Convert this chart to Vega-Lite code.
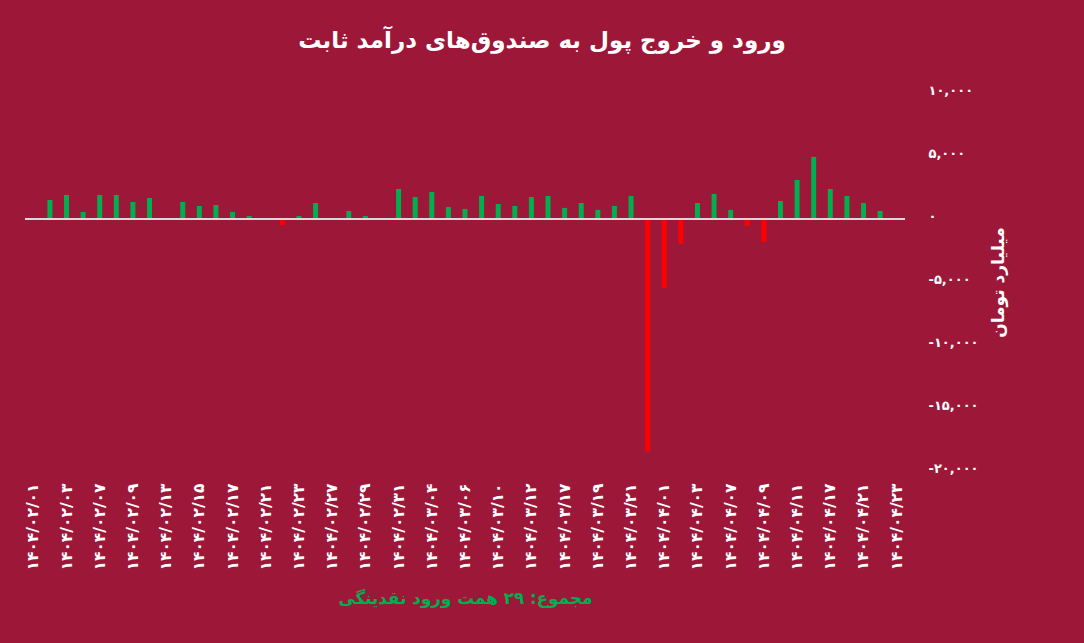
{
  "$schema": "https://vega.github.io/schema/vega-lite/v6.json",
  "autosize": "none",
  "width": 880,
  "height": 378,
  "padding": {"left": 25, "top": 93, "right": 179, "bottom": 172},
  "background": "#9D1739",
  "config": {
    "font": "DejaVu Sans",
    "view": {"stroke": null}
  },
  "title": {
    "text": "ورود و خروج پول به صندوق‌های  درآمد ثابت",
    "color": "#FFFFFF",
    "fontSize": 23,
    "fontWeight": "bold",
    "anchor": "middle",
    "dx": 77,
    "offset": 31
  },
  "data": {
    "values": [
      {"date": "۱۴۰۴/۰۲/۰۱", "value": 0},
      {"date": "۱۴۰۴/۰۲/۰۲", "value": 1510},
      {"date": "۱۴۰۴/۰۲/۰۳", "value": 1910},
      {"date": "۱۴۰۴/۰۲/۰۶", "value": 560},
      {"date": "۱۴۰۴/۰۲/۰۷", "value": 1910},
      {"date": "۱۴۰۴/۰۲/۰۸", "value": 1910},
      {"date": "۱۴۰۴/۰۲/۰۹", "value": 1350},
      {"date": "۱۴۰۴/۰۲/۱۰", "value": 1670},
      {"date": "۱۴۰۴/۰۲/۱۳", "value": 0},
      {"date": "۱۴۰۴/۰۲/۱۴", "value": 1350},
      {"date": "۱۴۰۴/۰۲/۱۵", "value": 1030},
      {"date": "۱۴۰۴/۰۲/۱۶", "value": 1110},
      {"date": "۱۴۰۴/۰۲/۱۷", "value": 560},
      {"date": "۱۴۰۴/۰۲/۲۰", "value": 240},
      {"date": "۱۴۰۴/۰۲/۲۱", "value": 0},
      {"date": "۱۴۰۴/۰۲/۲۲", "value": -480},
      {"date": "۱۴۰۴/۰۲/۲۳", "value": 240},
      {"date": "۱۴۰۴/۰۲/۲۴", "value": 1270},
      {"date": "۱۴۰۴/۰۲/۲۷", "value": 0},
      {"date": "۱۴۰۴/۰۲/۲۸", "value": 640},
      {"date": "۱۴۰۴/۰۲/۲۹", "value": 240},
      {"date": "۱۴۰۴/۰۲/۳۰", "value": 0},
      {"date": "۱۴۰۴/۰۲/۳۱", "value": 2380},
      {"date": "۱۴۰۴/۰۳/۰۳", "value": 1750},
      {"date": "۱۴۰۴/۰۳/۰۴", "value": 2150},
      {"date": "۱۴۰۴/۰۳/۰۵", "value": 950},
      {"date": "۱۴۰۴/۰۳/۰۶", "value": 800},
      {"date": "۱۴۰۴/۰۳/۰۷", "value": 1830},
      {"date": "۱۴۰۴/۰۳/۱۰", "value": 1190},
      {"date": "۱۴۰۴/۰۳/۱۱", "value": 1030},
      {"date": "۱۴۰۴/۰۳/۱۲", "value": 1750},
      {"date": "۱۴۰۴/۰۳/۱۳", "value": 1830},
      {"date": "۱۴۰۴/۰۳/۱۷", "value": 880},
      {"date": "۱۴۰۴/۰۳/۱۸", "value": 1270},
      {"date": "۱۴۰۴/۰۳/۱۹", "value": 720},
      {"date": "۱۴۰۴/۰۳/۲۰", "value": 1030},
      {"date": "۱۴۰۴/۰۳/۲۱", "value": 1830},
      {"date": "۱۴۰۴/۰۳/۳۱", "value": -18450},
      {"date": "۱۴۰۴/۰۴/۰۱", "value": -5460},
      {"date": "۱۴۰۴/۰۴/۰۲", "value": -1960},
      {"date": "۱۴۰۴/۰۴/۰۳", "value": 1270},
      {"date": "۱۴۰۴/۰۴/۰۶", "value": 1990},
      {"date": "۱۴۰۴/۰۴/۰۷", "value": 720},
      {"date": "۱۴۰۴/۰۴/۰۸", "value": -530},
      {"date": "۱۴۰۴/۰۴/۰۹", "value": -1800},
      {"date": "۱۴۰۴/۰۴/۱۰", "value": 1430},
      {"date": "۱۴۰۴/۰۴/۱۱", "value": 3100},
      {"date": "۱۴۰۴/۰۴/۱۴", "value": 4930},
      {"date": "۱۴۰۴/۰۴/۱۷", "value": 2380},
      {"date": "۱۴۰۴/۰۴/۱۸", "value": 1830},
      {"date": "۱۴۰۴/۰۴/۲۱", "value": 1270},
      {"date": "۱۴۰۴/۰۴/۲۲", "value": 640},
      {"date": "۱۴۰۴/۰۴/۲۳", "value": 0}
    ]
  },
  "layer": [
    {
      "mark": {"type": "bar"},
      "encoding": {
        "x": {
          "field": "date",
          "type": "nominal",
          "sort": null,
          "scale": {"paddingInner": 0.7, "paddingOuter": 0.35},
          "axis": {
            "values": ["۱۴۰۴/۰۲/۰۱", "۱۴۰۴/۰۲/۰۳", "۱۴۰۴/۰۲/۰۷", "۱۴۰۴/۰۲/۰۹", "۱۴۰۴/۰۲/۱۳", "۱۴۰۴/۰۲/۱۵", "۱۴۰۴/۰۲/۱۷", "۱۴۰۴/۰۲/۲۱", "۱۴۰۴/۰۲/۲۳", "۱۴۰۴/۰۲/۲۷", "۱۴۰۴/۰۲/۲۹", "۱۴۰۴/۰۲/۳۱", "۱۴۰۴/۰۳/۰۴", "۱۴۰۴/۰۳/۰۶", "۱۴۰۴/۰۳/۱۰", "۱۴۰۴/۰۳/۱۲", "۱۴۰۴/۰۳/۱۷", "۱۴۰۴/۰۳/۱۹", "۱۴۰۴/۰۳/۲۱", "۱۴۰۴/۰۴/۰۱", "۱۴۰۴/۰۴/۰۳", "۱۴۰۴/۰۴/۰۷", "۱۴۰۴/۰۴/۰۹", "۱۴۰۴/۰۴/۱۱", "۱۴۰۴/۰۴/۱۷", "۱۴۰۴/۰۴/۲۱", "۱۴۰۴/۰۴/۲۳"],
            "labelAngle": -90,
            "labelColor": "#FFFFFF",
            "labelFontSize": 15.5,
            "labelFontWeight": "bold",
            "labelPadding": 12,
            "labelOverlap": false,
            "ticks": false,
            "domain": false,
            "title": "مجموع: ۲۹ همت ورود نقدینگی",
            "titleColor": "#00B050",
            "titleFontSize": 16.8,
            "titleFontWeight": "bold",
            "titlePadding": 20
          }
        },
        "y": {
          "field": "value",
          "type": "quantitative",
          "scale": {"domain": [-20000, 10000], "nice": false, "zero": true},
          "axis": {
            "orient": "right",
            "values": [-20000, -15000, -10000, -5000, 0, 5000, 10000],
            "labelExpr": "replace(replace(replace(replace(replace(format(datum.value, ','), regexp('0','g'), '۰'), regexp('1','g'), '۱'), regexp('2','g'), '۲'), regexp('5','g'), '۵'), regexp('−','g'), '-')",
            "labelColor": "#FFFFFF",
            "labelFontSize": 13,
            "labelFontWeight": "bold",
            "labelAlign": "left",
            "labelPadding": 23,
            "labelOffset": -3,
            "grid": false,
            "ticks": false,
            "domain": false,
            "title": "میلیارد تومان",
            "titleColor": "#FFFFFF",
            "titleAngle": 270,
            "titleFontSize": 17,
            "titleFontWeight": "bold",
            "titlePadding": 29
          }
        },
        "color": {
          "condition": {"test": "datum.value < 0", "value": "#FF0000"},
          "value": "#00B050"
        }
      }
    },
    {
      "mark": {"type": "rule", "color": "#D9D9D9", "strokeWidth": 2},
      "encoding": {"y": {"datum": 0}}
    }
  ]
}
